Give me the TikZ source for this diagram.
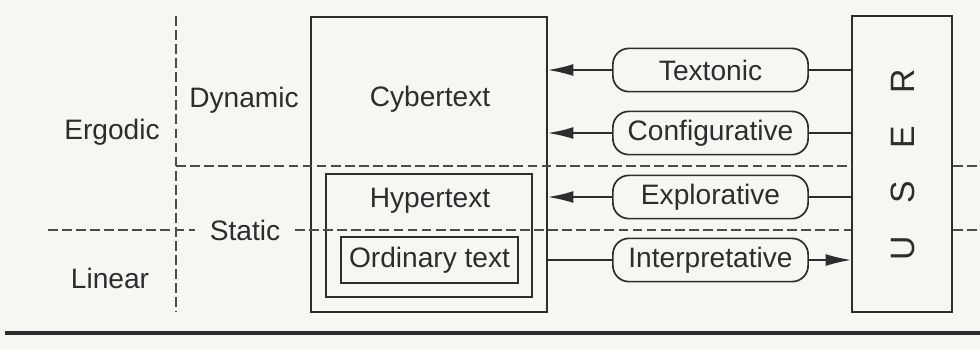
\documentclass[tikz,border=0pt]{standalone}
\usepackage{fontspec}
\setmainfont{Liberation Sans}
\usetikzlibrary{arrows.meta, fit}
\definecolor{ink}{RGB}{45,45,45}
\definecolor{paper}{RGB}{246,246,242}
\tikzset{
  frame/.style={rectangle,draw=ink,inner sep=0pt},
  mode/.style={rectangle,draw=ink,rounded corners=2mm,minimum width=24.4mm,minimum height=5.4mm,inner sep=0pt,text=ink},
  lbl/.style={text=ink,inner sep=1pt},
  divide/.style={draw=ink!85,dash pattern=on 3.5pt off 1.5pt},
  line/.style={draw=ink},
  arrow/.style={line,-{Latex[length=3.2mm,width=1.5mm]}}
}
\begin{document}
\begin{tikzpicture}[x=0.0125cm,y=-0.0125cm,line width=0.6pt]
\fill[paper] (0,0) rectangle (980,349);
\useasboundingbox (0,0) rectangle (980,349);
\node[frame, fit={(311,17) (547,312)}] (cyber) {};
\node[frame, fit={(326,174) (532,297)}] (hyper) {};
\node[frame, fit={(341,237) (518,283)}] (ordin) {};
\node[frame, fit={(852,16) (952,312)}] (user) {};
\node[lbl] (cyberlbl) at (430,99) {Cybertext};
\node[lbl] (hyperlbl) at (430,201) {Hypertext};
\node[lbl] (ordinlbl) at (ordin) {Ordinary text};
\node[lbl, rotate=90, font=\fontsize{12}{14}\selectfont] (userlbl) at (903,165) {U\hspace{11.5pt}S\hspace{11.5pt}E\hspace{11.5pt}R};
\node[lbl] (ergodic) at (112,132) {Ergodic};
\node[lbl] (dynamic) at (244,100) {Dynamic};
\node[lbl, inner xsep=5pt] (static) at (245,230) {Static};
\node[lbl] (linear) at (110,278) {Linear};
\node[mode] (textonic) at (710.5,70) {Textonic};
\node[mode] (config) at (710.5,133) {Configurative};
\node[mode] (explor) at (710.5,197) {Explorative};
\node[mode] (interp) at (710.5,260) {Interpretative};
\draw[divide] (176,16) -- (176,312);
\draw[divide] (176,166) -- (user.west |- 0,166) (user.east |- 0,166) -- (980,166);
\draw[divide] (48,230) -- (static.west) (static.east) -- (user.west |- static) (user.east |- static) -- (980,230);
\foreach \m in {textonic,config,explor} {
  \draw[arrow] (\m) -- (\m -| cyber.east);
  \draw[line] (\m) -- (\m -| user.west);
}
\draw[line] (cyber.east |- interp) -- (interp);
\draw[arrow] (interp) -- (interp -| user.west);
\draw[ink, line width=1.3pt] (5,333) -- (980,333);
\end{tikzpicture}
\end{document}
